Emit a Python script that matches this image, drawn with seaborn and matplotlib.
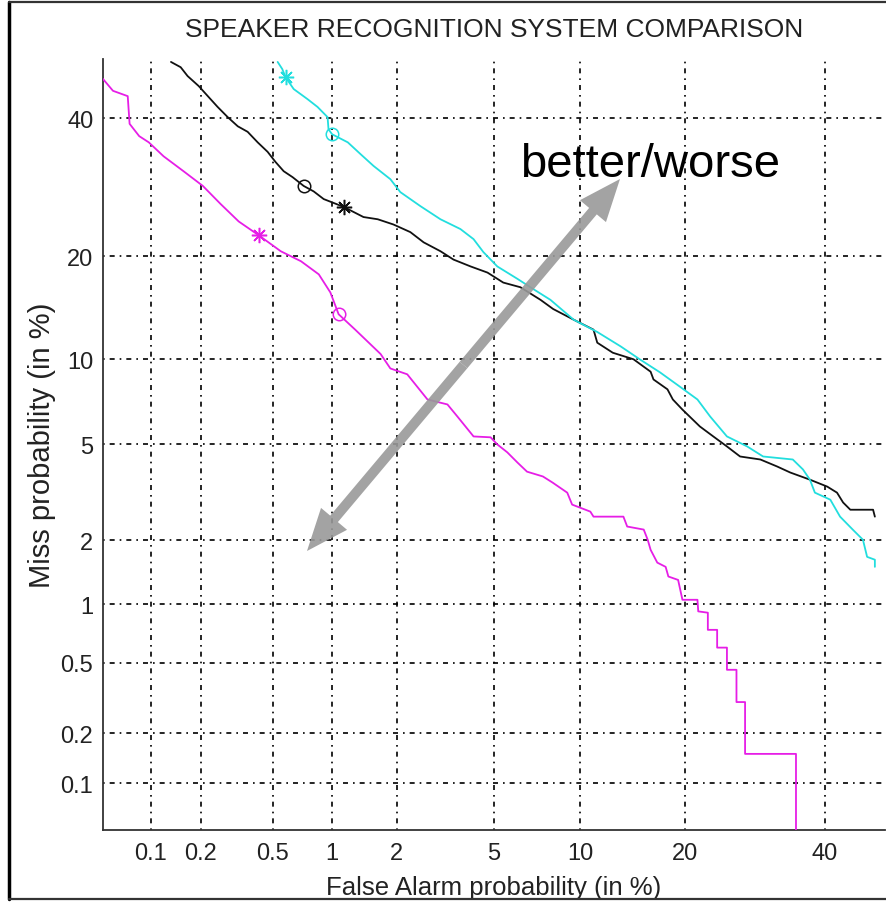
import math
import numpy as np
import pandas as pd
import matplotlib
matplotlib.use("Agg")
import matplotlib.pyplot as plt
from matplotlib.lines import Line2D
from matplotlib.patches import FancyArrow
import seaborn as sns

# ---------------- data (percent) ----------------
systems = ["magenta", "black", "cyan"]

magenta_fa = [0.05, 0.058, 0.072, 0.074, 0.085, 0.0975, 0.120, 0.158, 0.205, 0.259, 0.327, 0.42,
              0.55, 0.70, 0.86, 0.98, 1.075, 1.29, 1.69, 1.87, 2.22, 2.71, 3.28, 3.60, 4.17, 4.85,
              5.14, 5.6, 6.1, 6.6, 7.5, 8.1, 9.06, 9.4, 10.75, 11.0, 13.55, 13.9, 15.5, 15.9, 16.2,
              16.9, 17.8, 18.1, 19.2, 19.7, 21.5, 21.6, 22.8, 22.8, 24.0, 24.0, 25.3, 25.3, 26.6,
              26.6, 27.8, 27.8, 35.4, 35.4]
magenta_miss = [46.6, 44.6, 43.7, 39.1, 37.1, 36.1, 33.9, 31.6, 29.4, 26.8, 24.4, 22.6,
                20.6, 19.4, 17.9, 15.96, 13.8, 12.4, 10.4, 9.33, 8.92, 7.31, 7.02, 6.35, 5.36, 5.32,
                5.0, 4.66, 4.25, 3.91, 3.74, 3.53, 3.21, 2.86, 2.67, 2.54, 2.54, 2.30, 2.23, 2.01, 1.81,
                1.58, 1.51, 1.36, 1.31, 1.05, 1.05, 0.92, 0.906, 0.742, 0.742, 0.60, 0.60, 0.457, 0.457,
                0.303, 0.303, 0.151, 0.151, 0.02]

black_fa = [0.133, 0.152, 0.167, 0.194, 0.219, 0.249, 0.284, 0.323, 0.366, 0.415, 0.469, 0.517,
            0.570, 0.634, 0.722, 0.811, 0.909, 1.136, 1.41, 1.64, 1.93, 2.29, 2.61, 3.07, 3.47,
            4.06, 4.72, 5.41, 6.25, 7.36, 8.13, 9.5, 11.0, 11.3, 12.6, 14.5, 16.2, 16.5, 18.0,
            18.6, 19.7, 21.8, 23.5, 25.3, 27.1, 30.0, 32.5, 34.5, 37.6, 40.4, 42.0, 43.0, 44.2,
            48.0, 48.3]
black_miss = [49.5, 48.6, 47.1, 45.4, 43.7, 41.9, 40.2, 38.7, 37.8, 36.1, 34.6, 33.0,
              31.6, 30.7, 29.4, 28.6, 27.5, 26.4, 25.0, 24.7, 24.0, 23.0, 21.7, 20.6, 19.6,
              18.8, 18.1, 17.0, 16.5, 15.2, 14.3, 13.3, 12.4, 11.3, 10.5, 10.0, 9.1, 8.57, 7.93,
              7.31, 6.73, 5.84, 5.36, 4.91, 4.49, 4.37, 4.10, 3.88, 3.63, 3.40, 3.21, 2.92, 2.72,
              2.72, 2.54]

cyan_fa = [0.53, 0.56, 0.583, 0.642, 0.755, 0.847, 0.95, 0.96, 1.0, 1.19, 1.37, 1.57, 1.87,
           2.07, 2.53, 3.07, 3.70, 4.17, 4.55, 5.14, 6.1, 6.95, 7.96, 9.5, 11.3, 13.3, 15.1,
           17.2, 19.4, 21.5, 23.1, 25.3, 28.1, 30.4, 34.9, 36.5, 37.6, 38.4, 40.9, 42.5, 44.6,
           46.3, 47.0, 48.3, 48.3]
cyan_miss = [49.5, 48.3, 46.9, 44.9, 43.2, 41.9, 40.2, 38.2, 37.4, 36.1, 34.2, 32.4, 30.4,
             28.5, 26.5, 24.7, 23.4, 22.1, 20.5, 18.8, 17.4, 16.3, 15.2, 13.3, 12.2, 11.0, 10.0,
             9.05, 8.1, 7.31, 6.35, 5.36, 4.91, 4.49, 4.37, 3.99, 3.63, 3.21, 3.0, 2.54, 2.23,
             2.01, 1.68, 1.63, 1.51]

star_fa = [0.42, 1.136, 0.583]
star_miss = [22.6, 26.4, 46.9]
circle_fa = [1.075, 0.722, 1.0]
circle_miss = [13.8, 29.4, 37.4]

tick_values = [0.1, 0.2, 0.5, 1, 2, 5, 10, 20, 40]
tick_labels = ["0.1", "0.2", "0.5", "1", "2", "5", "10", "20", "40"]

colors = {"magenta": "#e61ee6", "black": "#111111", "cyan": "#22dede"}

title = "SPEAKER RECOGNITION SYSTEM COMPARISON"
xlabel = "False Alarm probability (in %)"
ylabel = "Miss probability (in %)"
annot = "better/worse"

# ---------------- normal deviate scale ----------------
_a = [-3.969683028665376e+01, 2.209460984245205e+02, -2.759285104469687e+02,
      1.383577518672690e+02, -3.066479806614716e+01, 2.506628277459239e+00]
_b = [-5.447609879822406e+01, 1.615858368580409e+02, -1.556989798598866e+02,
      6.680131188771972e+01, -1.328068155288572e+01]
_c = [-7.784894002430293e-03, -3.223964580411365e-01, -2.400758277161838e+00,
      -2.549732539343734e+00, 4.374664141464968e+00, 2.938163982698783e+00]
_d = [7.784695709041462e-03, 3.224671290700398e-01, 2.445134137142996e+00,
      3.754408661907416e+00]


def _ppf(p):
    p = np.clip(np.asarray(p, dtype=float), 1e-12, 1 - 1e-12)
    plow = 0.02425
    out = np.empty_like(p)
    lo = p < plow
    hi = p > 1 - plow
    mid = ~(lo | hi)
    q = np.sqrt(-2 * np.log(p[lo]))
    out[lo] = (((((_c[0]*q+_c[1])*q+_c[2])*q+_c[3])*q+_c[4])*q+_c[5]) / \
              ((((_d[0]*q+_d[1])*q+_d[2])*q+_d[3])*q+1)
    q = np.sqrt(-2 * np.log(1 - p[hi]))
    out[hi] = -(((((_c[0]*q+_c[1])*q+_c[2])*q+_c[3])*q+_c[4])*q+_c[5]) / \
               ((((_d[0]*q+_d[1])*q+_d[2])*q+_d[3])*q+1)
    q = p[mid] - 0.5
    r = q*q
    out[mid] = (((((_a[0]*r+_a[1])*r+_a[2])*r+_a[3])*r+_a[4])*r+_a[5])*q / \
               (((((_b[0]*r+_b[1])*r+_b[2])*r+_b[3])*r+_b[4])*r+1)
    return out


_erf = np.vectorize(math.erf)


def fwd(pct):
    pct = np.nan_to_num(np.asarray(pct, dtype=float), nan=1e-9)
    return _ppf(pct / 100.0)


def inv(z):
    z = np.asarray(z, dtype=float)
    return 100.0 * 0.5 * (1 + _erf(z / math.sqrt(2)))


# ---------------- figure ----------------
sns.set_theme(style="white")
plt.rcParams["font.family"] = ["Liberation Sans", "DejaVu Sans"]

W, H = 886, 903
fig = plt.figure(figsize=(W / 100, H / 100), dpi=100)
ax = fig.add_axes([103 / W, 1 - 831 / H, (885 - 103) / W, (831 - 60) / H])
ax.set_xscale("function", functions=(fwd, inv))
ax.set_yscale("function", functions=(fwd, inv))

frames = []
for name, fa, miss in [("magenta", magenta_fa, magenta_miss),
                       ("black", black_fa, black_miss),
                       ("cyan", cyan_fa, cyan_miss)]:
    frames.append(pd.DataFrame({"fa": fa, "miss": miss, "system": name}))
df = pd.concat(frames, ignore_index=True)

sns.lineplot(data=df, x="fa", y="miss", hue="system", palette=colors, units="system",
             estimator=None, sort=False, linewidth=1.3, legend=False, ax=ax, zorder=3)

for i, name in enumerate(systems):
    ax.plot([star_fa[i]], [star_miss[i]], linestyle="none", marker=(8, 2, 0), markersize=11,
            color=colors[name], markeredgewidth=1.1, zorder=4)
    ax.plot([circle_fa[i]], [circle_miss[i]], linestyle="none", marker="o", markersize=9,
            markerfacecolor="none", markeredgecolor=colors[name], markeredgewidth=1.1, zorder=4)

ax.set_xlim(0.05, 50)
ax.set_ylim(0.05, 50)
ax.set_xticks(tick_values)
ax.set_xticklabels(tick_labels)
ax.set_yticks(tick_values)
ax.set_yticklabels(tick_labels)
ax.minorticks_off()

ax.grid(True, which="major", color="black", linestyle=(0, (1, 3, 3, 3)), linewidth=1.2)
for s in ["top", "right"]:
    ax.spines[s].set_visible(False)
for s in ["left", "bottom"]:
    ax.spines[s].set_color("#333333")
    ax.spines[s].set_linewidth(1.3)
ax.tick_params(axis="both", direction="in", length=7, width=1.3, color="#222222",
               labelsize=17, labelcolor="#222222")
ax.tick_params(axis="x", pad=9)
ax.tick_params(axis="y", pad=7)

ax.set_xlabel(xlabel, fontsize=18.5, color="#222222")
ax.xaxis.set_label_coords(0.5, -(876 - 831) / 771)
ax.set_ylabel(ylabel, fontsize=21, color="#222222")
ax.yaxis.set_label_coords(-(103 - 56) / 782, 0.5)

fig.text((103 + 885) / 2 / W, 1 - 30 / H, title, ha="center", va="center",
         fontsize=19, color="#222222")

# better/worse annotation (figure inches)
p0 = (307 / 100, (H - 552) / 100)
p1 = (620 / 100, (H - 180) / 100)
mid = ((p0[0] + p1[0]) / 2, (p0[1] + p1[1]) / 2)
for tip in (p0, p1):
    fig.add_artist(FancyArrow(mid[0], mid[1], tip[0] - mid[0], tip[1] - mid[1],
                              width=0.10, head_width=0.34, head_length=0.42,
                              length_includes_head=True, color="#999999", alpha=0.9,
                              linewidth=0, transform=fig.dpi_scale_trans, zorder=5))
fig.text(520 / W, 1 - 177 / H, annot, ha="left", va="baseline", fontsize=34, color="black")

# outer frame
fig.add_artist(Line2D([9 / W, 9 / W], [1 - 3 / H, 1 - 900 / H], color="black", linewidth=2.5,
                      transform=fig.transFigure))
fig.add_artist(Line2D([9 / W, 1], [1 - 3 / H, 1 - 3 / H], color="#333333", linewidth=1.6,
                      transform=fig.transFigure))
fig.add_artist(Line2D([9 / W, 1], [1 - 900 / H, 1 - 900 / H], color="#333333", linewidth=1.6,
                      transform=fig.transFigure))

fig.savefig("out.png", dpi=100)
